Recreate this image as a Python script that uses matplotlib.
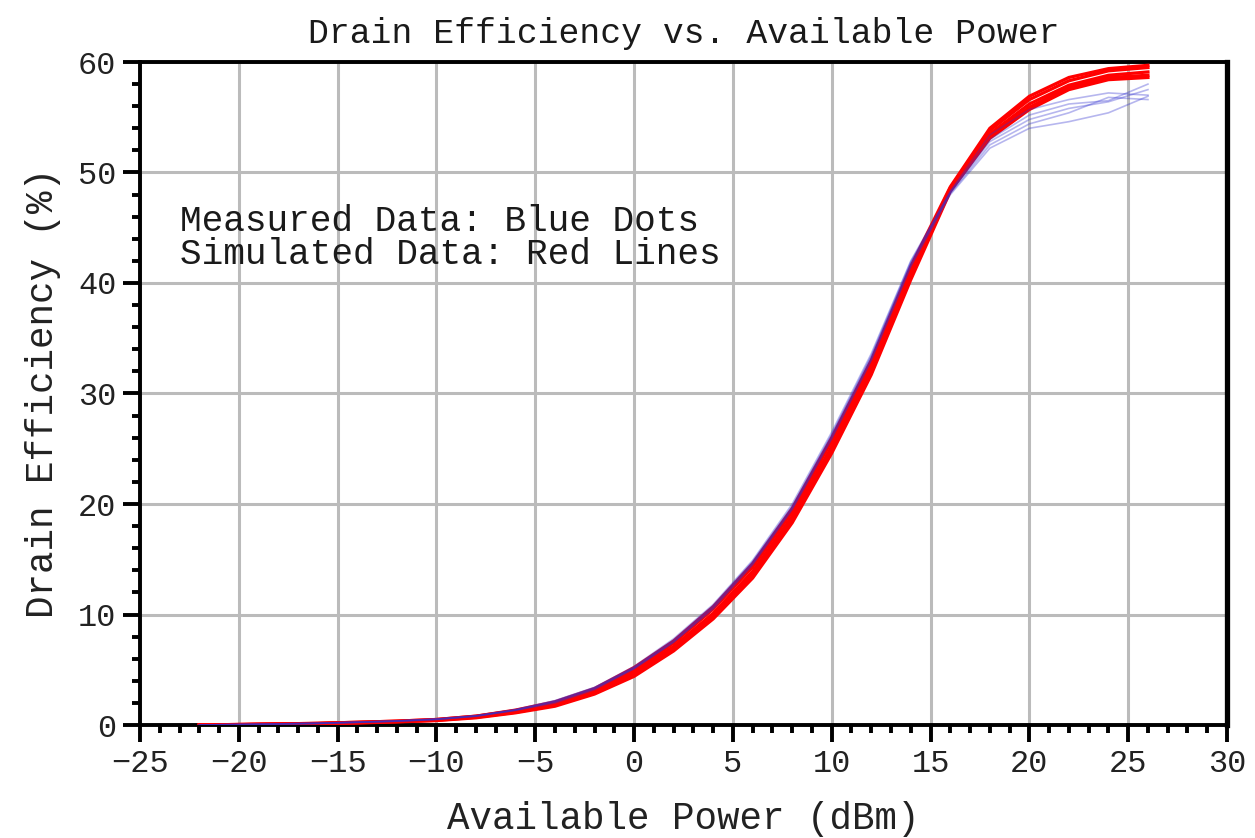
import matplotlib
matplotlib.use("Agg")
import matplotlib.pyplot as plt
import numpy as np

# available power sweep (dBm)
pavs = [-22, -20, -18, -16, -14, -12, -10, -8, -6, -4, -2, 0, 2,
        4, 6, 8, 10, 12, 14, 16, 18, 20, 22, 24, 26]

# simulated drain efficiency (%)
sim_1 = [0.0, 0.05, 0.10, 0.15, 0.25, 0.35, 0.50, 0.80, 1.35, 2.1, 3.3, 5.2, 7.6,
         10.7, 14.6, 19.6, 26.0, 33.0, 41.5, 48.7, 54.0, 56.9, 58.6, 59.4, 59.7]
sim_2 = [0.0, 0.05, 0.10, 0.15, 0.25, 0.35, 0.50, 0.80, 1.30, 2.0, 3.2, 5.0, 7.4,
         10.5, 14.3, 19.3, 25.7, 32.7, 41.2, 48.6, 53.8, 56.6, 58.3, 59.2, 59.5]
sim_3 = [0.0, 0.04, 0.08, 0.14, 0.22, 0.32, 0.45, 0.75, 1.25, 1.9, 3.0, 4.8, 7.1,
         10.1, 13.9, 18.9, 25.2, 32.3, 40.9, 48.5, 53.5, 56.2, 57.9, 58.8, 59.1]
sim_4 = [0.0, 0.03, 0.07, 0.12, 0.20, 0.30, 0.42, 0.70, 1.15, 1.8, 2.9, 4.6, 6.9,
         9.8, 13.6, 18.6, 24.9, 32.0, 40.6, 48.4, 53.3, 55.9, 57.7, 58.6, 58.8]
sim_5 = [0.0, 0.03, 0.06, 0.11, 0.18, 0.28, 0.40, 0.65, 1.10, 1.7, 2.8, 4.4, 6.7,
         9.6, 13.3, 18.3, 24.6, 31.7, 40.3, 48.3, 53.1, 55.7, 57.5, 58.4, 58.6]

# measured drain efficiency (%)
meas_1 = [0.0, 0.05, 0.10, 0.17, 0.27, 0.38, 0.55, 0.85, 1.40, 2.2, 3.4, 5.3, 7.8,
          10.9, 14.9, 20.0, 26.5, 33.6, 42.0, 48.3, 53.4, 55.7, 56.6, 57.2, 57.0]
meas_2 = [0.0, 0.05, 0.10, 0.16, 0.26, 0.37, 0.53, 0.83, 1.38, 2.2, 3.4, 5.2, 7.7,
          10.8, 14.8, 19.8, 26.3, 33.4, 41.9, 48.2, 53.0, 55.2, 56.2, 56.5, 58.0]
meas_3 = [0.0, 0.04, 0.09, 0.15, 0.25, 0.36, 0.52, 0.82, 1.36, 2.1, 3.3, 5.2, 7.6,
          10.7, 14.7, 19.7, 26.2, 33.3, 41.8, 48.2, 52.8, 54.8, 55.8, 56.4, 57.5]
meas_4 = [0.0, 0.04, 0.09, 0.15, 0.24, 0.35, 0.51, 0.80, 1.34, 2.1, 3.3, 5.1, 7.5,
          10.6, 14.6, 19.6, 26.0, 33.1, 41.6, 48.1, 52.5, 54.4, 55.4, 56.8, 56.6]
meas_5 = [0.0, 0.04, 0.08, 0.14, 0.24, 0.34, 0.50, 0.79, 1.32, 2.0, 3.2, 5.1, 7.5,
          10.5, 14.5, 19.5, 25.9, 33.0, 41.5, 48.0, 52.2, 54.0, 54.6, 55.4, 56.9]

sim_curves = [sim_1, sim_2, sim_3, sim_4, sim_5]
meas_curves = [meas_1, meas_2, meas_3, meas_4, meas_5]

# wide, thin monospaced lettering
plt.rcParams['font.family'] = ['Liberation Mono', 'DejaVu Sans Mono']

fig = plt.figure(figsize=(12.55, 8.38), dpi=100)
ax = fig.add_axes([140 / 1255, 113 / 838, 1087 / 1255, 663 / 838])

for curve in sim_curves:
    ax.plot(pavs, curve, color='#ff0000', lw=2.3, solid_joinstyle='miter', zorder=3)
for curve in meas_curves:
    ax.plot(pavs, curve, color='#3030d0', lw=1.2, alpha=0.35, zorder=4)

ax.set_xlim(-25, 30)
ax.set_ylim(0, 60)
ax.set_xticks(np.arange(-25, 31, 5))
ax.set_xticks(np.arange(-25, 31, 1), minor=True)
ax.set_yticks(np.arange(0, 61, 10))
ax.set_yticks(np.arange(0, 61, 2), minor=True)

ax.grid(True, which='major', color='#bbbbbb', lw=2.2, zorder=0)
ax.set_axisbelow(True)

for side in ['left', 'bottom', 'top']:
    ax.spines[side].set_linewidth(2.8)
ax.spines['right'].set_linewidth(3.8)

ax.tick_params(which='major', direction='out', length=12, width=2.8,
               labelsize=23, pad=5, colors='black', labelcolor='#222222')
ax.tick_params(which='minor', direction='out', length=5.5, width=2.8)
ax.tick_params(top=False, right=False, which='both')

ax.set_title('Drain Efficiency vs. Available Power', fontsize=25, pad=14,
             color='#1a1a1a')
ax.set_xlabel('Available Power (dBm)', fontsize=27, labelpad=16, color='#222222')
ax.set_ylabel('Drain Efficiency (%)', fontsize=27, labelpad=12, color='#222222')

ax.text(-23.0, 45.6, 'Measured Data: Blue Dots', fontsize=26, va='center',
        ha='left', color='#1a1a1a')
ax.text(-23.0, 42.6, 'Simulated Data: Red Lines', fontsize=26, va='center',
        ha='left', color='#1a1a1a')

fig.savefig('out.png', dpi=100)
